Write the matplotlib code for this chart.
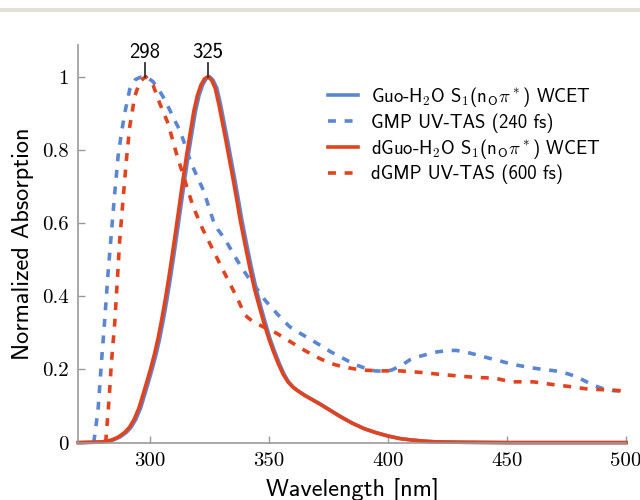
import matplotlib

matplotlib.use("Agg")
import matplotlib.pyplot as plt
from matplotlib.patches import Rectangle


# dGuo-H2O S1(nO pi*) WCET (solid red)
dguo_wl = [270, 276, 280, 284, 287, 289.5, 291.5, 293.5, 295.5, 297.5, 299, 300.5,
           302, 303.5, 305, 306.5, 308, 309.5, 311, 312.5, 314, 315.5, 317, 318.5,
           320, 321.5, 323, 324.5, 326, 327.5, 329, 330.5, 332, 333.5, 335, 336.5,
           338, 340, 342, 344, 346, 348, 350, 352, 354, 356, 358, 360, 362, 365,
           368, 371.5, 375.5, 380, 385, 390, 395, 400, 405, 410, 415, 420, 430, 450, 500]
dguo_abs = [0.0, 0.001, 0.002, 0.007, 0.016, 0.028, 0.042, 0.064, 0.095, 0.138, 0.171, 0.205,
            0.242, 0.285, 0.335, 0.39, 0.45, 0.515, 0.582, 0.651, 0.72, 0.786, 0.846, 0.905,
            0.948, 0.977, 0.994, 1.0, 0.99, 0.968, 0.925, 0.875, 0.825, 0.772, 0.72, 0.665,
            0.608, 0.542, 0.478, 0.42, 0.372, 0.326, 0.284, 0.248, 0.215, 0.187, 0.166, 0.152,
            0.142, 0.129, 0.118, 0.105, 0.089, 0.071, 0.053, 0.038, 0.027, 0.018, 0.011, 0.007,
            0.004, 0.002, 0.001, 0.0, 0.0]

# Guo-H2O S1(nO pi*) WCET (solid blue), a touch to the red of dGuo
guo_wl = [270, 276.7, 280.7, 284.7, 287.7, 290.2, 292.2, 294.2, 296.2, 298.2, 299.7, 301.2,
          302.7, 304.2, 305.7, 307.2, 308.7, 310.2, 311.7, 313.2, 314.7, 316.2, 317.7, 319.2,
          320.7, 322.2, 323.7, 325.1, 326.6, 328.2, 329.7, 331.2, 332.7, 334.2, 335.7, 337.2,
          338.7, 340.7, 342.7, 344.7, 346.6, 348.6, 350.5, 352.5, 354.5, 356.4, 358.3, 360.2,
          362.2, 365.2, 368.2, 371.7, 375.7, 380.2, 385.2, 390.2, 395.2, 400.2, 405.2, 410.2,
          415.2, 420.2, 430.2, 450, 500]
guo_abs = [0.0, 0.001, 0.002, 0.007, 0.016, 0.028, 0.042, 0.064, 0.095, 0.138, 0.171, 0.205,
           0.242, 0.285, 0.335, 0.39, 0.45, 0.515, 0.582, 0.651, 0.72, 0.786, 0.846, 0.905,
           0.948, 0.977, 0.994, 1.0, 0.99, 0.968, 0.925, 0.875, 0.825, 0.772, 0.72, 0.665,
           0.608, 0.542, 0.478, 0.42, 0.372, 0.326, 0.284, 0.248, 0.215, 0.187, 0.166, 0.152,
           0.142, 0.129, 0.118, 0.105, 0.089, 0.071, 0.053, 0.038, 0.027, 0.018, 0.011, 0.007,
           0.004, 0.002, 0.001, 0.0, 0.0]

# GMP UV-TAS (240 fs) (dashed blue)
gmp_wl = [276.5, 278.3, 279.7, 281.1, 282.5, 283.9, 285.3, 286.7, 288.1, 289.5, 291.6,
          294, 296, 298.5, 301.4, 303.5, 305.6, 308.4, 310.5, 312.6, 315, 317, 320,
          322.5, 324.5, 326.6, 328.5, 330.8, 333, 335, 337, 339.2, 341.3, 343.4, 345.8,
          348.3, 351, 353.9, 356.3, 358.7, 362, 365.7, 369, 372.6, 376, 379.8, 383.3,
          386.8, 390.5, 394.5, 398, 401.5, 405.5, 409.2, 413, 416.9, 420.8, 424.7, 428.5,
          432.4, 436, 440, 444, 447.7, 451.6, 455.5, 459.7, 463.9, 467.7, 471.5, 475.5,
          479.3, 482.8, 486.2, 490, 494.7, 500]
gmp_abs = [0.0, 0.089, 0.217, 0.335, 0.463, 0.572, 0.681, 0.781, 0.845, 0.90, 0.965,
           0.992, 0.998, 1.0, 0.986, 0.967, 0.945, 0.909, 0.88, 0.854, 0.81, 0.77, 0.725,
           0.69, 0.65, 0.608, 0.583, 0.563, 0.54, 0.517, 0.495, 0.472, 0.452, 0.435, 0.413,
           0.39, 0.37, 0.349, 0.333, 0.317, 0.303, 0.289, 0.276, 0.262, 0.248, 0.235, 0.223,
           0.212, 0.203, 0.196, 0.195, 0.198, 0.21, 0.226, 0.235, 0.242, 0.248, 0.251, 0.252,
           0.248, 0.242, 0.235, 0.228, 0.222, 0.215, 0.21, 0.205, 0.201, 0.198, 0.195, 0.188,
           0.18, 0.168, 0.157, 0.148, 0.142, 0.14]

# dGMP UV-TAS (600 fs) (dashed red)
dgmp_wl = [281.5, 282.9, 283.9, 285.3, 286.4, 287.4, 288.8, 290.2, 291.6, 293.7, 295.8,
           298.3, 301.4, 304.2, 307.7, 311.2, 314.7, 318.2, 322.4, 326.6, 330.1, 333.6,
           337.1, 339.9, 343, 346.2, 349.7, 353.2, 356.7, 360.2, 363.7, 367.2, 370.7,
           374.2, 377.7, 381.2, 385.4, 389.6, 397.3, 405, 413.4, 421.1, 429.5, 437.3, 445,
           449, 452.7, 461.1, 468.8, 476.5, 484.2, 492.6, 500]
dgmp_abs = [0.0, 0.116, 0.217, 0.326, 0.444, 0.553, 0.663, 0.772, 0.863, 0.945, 0.986,
            1.0, 0.977, 0.927, 0.872, 0.79, 0.717, 0.645, 0.581, 0.526, 0.48, 0.435,
            0.39, 0.349, 0.332, 0.321, 0.31, 0.299, 0.285, 0.271, 0.257, 0.244, 0.232,
            0.221, 0.213, 0.207, 0.202, 0.198, 0.196, 0.196, 0.192, 0.187, 0.182, 0.178, 0.176,
            0.17, 0.166, 0.166, 0.159, 0.153, 0.146, 0.144, 0.141]

peak_x = [298, 324.5]
peak_labels = ["298", "325"]

xticks = [300, 350, 400, 450, 500]
xtick_labels = ["300", "350", "400", "450", "500"]
yticks = [0, 0.2, 0.4, 0.6, 0.8, 1.0]
ytick_labels = ["0", "0.2", "0.4", "0.6", "0.8", "1"]

BLUE = "#5b87d2"
RED = "#e2431f"
SANS = "cmss10"
SERIF = "cmr10"

plt.rcParams.update({"mathtext.fontset": "cm", "axes.unicode_minus": False})

fig = plt.figure(figsize=(6.4, 5), dpi=100)
fig.add_artist(Rectangle((0, 0.9754), 1, 0.008, transform=fig.transFigure,
                         color="#e4e0d6", lw=0))
ax = fig.add_axes([0.1223, 0.1148, 0.8559, 0.795])

dash = (2.2, 2.4)
ax.plot(guo_wl, guo_abs, color=BLUE, lw=2.6, clip_on=False,
        label=r"Guo-H$_\mathsf{2}$O S$_\mathsf{1}$(n$_\mathsf{O}\pi^*$) WCET")
ax.plot(gmp_wl, gmp_abs, color=BLUE, lw=2.6, dashes=dash, clip_on=False,
        label="GMP UV-TAS (240 fs)")
ax.plot(dguo_wl, dguo_abs, color=RED, lw=2.6, clip_on=False,
        label=r"dGuo-H$_\mathsf{2}$O S$_\mathsf{1}$(n$_\mathsf{O}\pi^*$) WCET")
ax.plot(dgmp_wl, dgmp_abs, color=RED, lw=2.6, dashes=dash, clip_on=False,
        label="dGMP UV-TAS (600 fs)")

for px, lab in zip(peak_x, peak_labels):
    ax.plot([px, px], [1.0, 1.037], color="#333333", lw=1.3, clip_on=False)
    ax.text(px, 1.04, lab, ha="center", va="bottom", fontfamily=SANS, fontsize=15)

ax.set_xlim(270, 500)
ax.set_ylim(0, 1.086)
ax.set_xticks(xticks)
ax.set_xticklabels(xtick_labels, fontfamily=SERIF, fontsize=15)
ax.set_yticks(yticks)
ax.set_yticklabels(ytick_labels, fontfamily=SERIF, fontsize=15)
ax.tick_params(direction="in", length=5, width=1, color="#999999", pad=7)

for side in ("top", "right"):
    ax.spines[side].set_visible(False)
for side in ("left", "bottom"):
    ax.spines[side].set_color("#999999")
    ax.spines[side].set_linewidth(1.2)

ax.set_xlabel("Wavelength [nm]", fontfamily=SANS, fontsize=17.5)
ax.set_ylabel("Normalized Absorption", fontfamily=SANS, fontsize=17.5)
ax.xaxis.set_label_coords(0.5, -0.089)
ax.yaxis.set_label_coords(-0.081, 0.5)

leg = ax.legend(loc="upper left", bbox_to_anchor=(0.512, 0.83),
                bbox_transform=fig.transFigure, frameon=False,
                prop={"family": SANS, "size": 13.5}, handlelength=1.6,
                handletextpad=0.7, labelspacing=0.22, borderpad=0,
                borderaxespad=0)

fig.savefig("out.png", dpi=100, facecolor="white")
